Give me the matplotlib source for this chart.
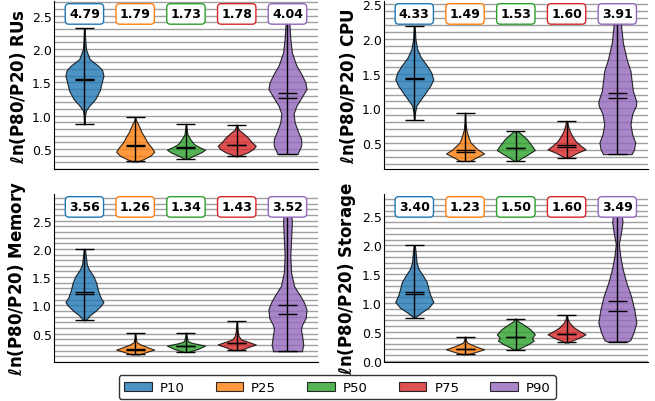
import numpy as np
import matplotlib
matplotlib.use('Agg')
import matplotlib.pyplot as plt
from matplotlib.ticker import MultipleLocator
from matplotlib.patches import Patch

groups = ['P10', 'P25', 'P50', 'P75', 'P90']
colors = ['tab:blue', 'tab:orange', 'tab:green', 'tab:red', 'tab:purple']

# ---- RUs ----
rus_ratio = [4.79, 1.79, 1.73, 1.78, 4.04]
rus_min = [0.87, 0.315, 0.35, 0.39, 0.425]
rus_max = [2.31, 0.976, 0.88, 0.866, 2.6]
rus_mean = [1.55, 0.565, 0.525, 0.56, 1.34]
rus_median = [1.54, 0.55, 0.51, 0.555, 1.27]
rus_shapes = [
    [(0.87, .01), (1.0, .03), (1.08, .08), (1.15, .26), (1.25, .57), (1.38, .81), (1.48, .89),
     (1.60, 1.0), (1.68, .94), (1.75, .72), (1.85, .27), (2.0, .08), (2.15, .04), (2.31, .01)],
    [(0.315, .15), (0.35, .45), (0.40, .8), (0.46, 1.0), (0.52, .87), (0.60, .64), (0.68, .49),
     (0.75, .34), (0.85, .19), (0.93, .05), (0.976, .01)],
    [(0.35, .05), (0.40, .4), (0.45, .8), (0.49, 1.0), (0.53, .7), (0.575, .42), (0.65, .22),
     (0.72, .08), (0.80, .04), (0.88, .01)],
    [(0.39, .05), (0.41, .2), (0.45, .58), (0.50, .87), (0.55, 1.0), (0.60, .8), (0.675, .58),
     (0.75, .29), (0.79, .1), (0.866, .02)],
    [(0.425, .53), (0.475, .6), (0.55, .72), (0.65, .72), (0.78, .53), (0.9, .38), (1.03, .32),
     (1.15, .47), (1.28, .75), (1.40, 1.0), (1.50, .94), (1.63, .72), (1.75, .47), (1.95, .23),
     (2.15, .15), (2.35, .11), (2.6, .04)],
]

# ---- CPU ----
cpu_ratio = [4.33, 1.49, 1.53, 1.60, 3.91]
cpu_min = [0.83, 0.24, 0.24, 0.29, 0.34]
cpu_max = [2.19, 0.94, 0.67, 0.82, 2.45]
cpu_mean = [1.44, 0.40, 0.43, 0.475, 1.216]
cpu_median = [1.42, 0.365, 0.425, 0.44, 1.144]
cpu_shapes = [
    [(0.83, .01), (0.94, .04), (1.04, .11), (1.13, .34), (1.23, .6), (1.33, .85), (1.42, 1.0),
     (1.52, .89), (1.62, .66), (1.74, .34), (1.86, .15), (2.0, .06), (2.19, .02)],
    [(0.24, .25), (0.29, .57), (0.35, 1.0), (0.41, .66), (0.51, .28), (0.61, .15), (0.70, .06),
     (0.80, .03), (0.94, .01)],
    [(0.24, .08), (0.28, .28), (0.34, .66), (0.40, 1.0), (0.46, .85), (0.56, .57), (0.65, .2),
     (0.67, .1)],
    [(0.29, .1), (0.31, .23), (0.36, .57), (0.41, 1.0), (0.46, .75), (0.53, .47), (0.61, .28),
     (0.68, .15), (0.75, .08), (0.82, .02)],
    [(0.34, .75), (0.41, .88), (0.51, .94), (0.63, .78), (0.77, .69), (0.92, .78), (1.04, .98),
     (1.10, 1.0), (1.25, .82), (1.40, .75), (1.54, .69), (1.71, .49), (1.95, .29), (2.19, .2),
     (2.45, .08)],
]

# ---- Memory ----
mem_ratio = [3.56, 1.26, 1.34, 1.43, 3.52]
mem_min = [0.737, 0.133, 0.175, 0.21, 0.19]
mem_max = [2.0, 0.506, 0.52, 0.725, 2.8]
mem_mean = [1.245, 0.225, 0.29, 0.34, 1.01]
mem_median = [1.20, 0.215, 0.28, 0.33, 0.84]
mem_shapes = [
    [(0.737, .05), (0.75, .1), (0.825, .28), (0.90, .57), (0.99, .85), (1.06, 1.0), (1.14, .85),
     (1.26, .72), (1.40, .62), (1.52, .47), (1.64, .23), (1.72, .13), (1.85, .08), (2.0, .03)],
    [(0.133, .2), (0.175, .57), (0.22, 1.0), (0.26, .66), (0.31, .28), (0.35, .08), (0.42, .04),
     (0.506, .01)],
    [(0.175, .1), (0.19, .24), (0.24, .69), (0.29, 1.0), (0.34, .3), (0.37, .1), (0.45, .04),
     (0.52, .01)],
    [(0.21, .2), (0.26, .57), (0.31, 1.0), (0.34, .75), (0.40, .23), (0.46, .1), (0.55, .05),
     (0.725, .01)],
    [(0.19, .75), (0.21, .77), (0.31, .83), (0.46, .77), (0.58, .71), (0.66, .77), (0.78, .96),
     (0.93, 1.0), (1.05, .87), (1.17, .67), (1.34, .35), (1.58, .19), (1.88, .15), (2.17, .19),
     (2.47, .23), (2.61, .2), (2.8, .06)],
]

# ---- Storage ----
sto_ratio = [3.40, 1.23, 1.50, 1.60, 3.49]
sto_min = [0.75, 0.115, 0.196, 0.318, 0.335]
sto_max = [2.0, 0.42, 0.733, 0.79, 2.75]
sto_mean = [1.20, 0.21, 0.415, 0.473, 1.03]
sto_median = [1.155, 0.205, 0.41, 0.462, 0.865]
sto_shapes = [
    [(0.75, .04), (0.78, .15), (0.84, .38), (0.92, .75), (1.02, 1.0), (1.13, .85), (1.24, .75),
     (1.36, .66), (1.47, .47), (1.59, .23), (1.70, .12), (1.85, .08), (2.0, .03)],
    [(0.115, .15), (0.155, .57), (0.20, 1.0), (0.25, .57), (0.29, .28), (0.32, .1), (0.37, .04),
     (0.42, .01)],
    [(0.196, .1), (0.23, .28), (0.29, .66), (0.35, .94), (0.40, .85), (0.46, 1.0), (0.55, .75),
     (0.635, .38), (0.68, .15), (0.733, .02)],
    [(0.318, .1), (0.35, .28), (0.40, .66), (0.46, 1.0), (0.52, .66), (0.58, .38), (0.66, .15),
     (0.72, .06), (0.79, .01)],
    [(0.335, .55), (0.36, .68), (0.49, .85), (0.66, 1.0), (0.89, .89), (1.12, .72), (1.36, .47),
     (1.59, .28), (1.82, .15), (2.02, .08), (2.22, .19), (2.40, .27), (2.54, .23), (2.75, .08)],
]

panels = [
    ('RUs', rus_ratio, rus_min, rus_max, rus_mean, rus_median, rus_shapes, (0.2, 2.72),
     [0.5, 1.0, 1.5, 2.0, 2.5]),
    ('CPU', cpu_ratio, cpu_min, cpu_max, cpu_mean, cpu_median, cpu_shapes, (0.125, 2.55),
     [0.5, 1.0, 1.5, 2.0, 2.5]),
    ('Memory', mem_ratio, mem_min, mem_max, mem_mean, mem_median, mem_shapes, (0.0, 2.97),
     [0.5, 1.0, 1.5, 2.0, 2.5]),
    ('Storage', sto_ratio, sto_min, sto_max, sto_mean, sto_median, sto_shapes, (-0.02, 2.89),
     [0.0, 0.5, 1.0, 1.5, 2.0, 2.5]),
]

fig = plt.figure(figsize=(6.55, 4.02), dpi=100)
rects = [[0.0824, 0.577, 0.403, 0.418], [0.586, 0.577, 0.403, 0.418],
         [0.0824, 0.097, 0.403, 0.418], [0.586, 0.097, 0.403, 0.418]]

positions = np.arange(1, 6)
for rect, (name, ratio, vmin, vmax, vmean, vmed, shapes, ylim, yticks) in zip(rects, panels):
    ax = fig.add_axes(rect)
    stats = []
    for i in range(5):
        stats.append({
            'coords': np.array([p[0] for p in shapes[i]]),
            'vals': np.array([p[1] for p in shapes[i]]),
            'mean': vmean[i], 'median': vmed[i],
            'min': vmin[i], 'max': vmax[i], 'quantiles': [],
        })
    parts = ax.violin(stats, positions=positions, widths=0.75,
                      showmeans=True, showmedians=True, showextrema=True)
    for body, c in zip(parts['bodies'], colors):
        body.set_facecolor(c)
        body.set_edgecolor('black')
        body.set_linewidth(0.8)
        body.set_alpha(0.8)
    for key in ['cbars', 'cmins', 'cmaxes', 'cmeans', 'cmedians']:
        parts[key].set_color('black')
        parts[key].set_linewidth(1.0)

    for x, r, c in zip(positions, ratio, colors):
        ax.text(x, 0.923, f'{r:.2f}', transform=ax.get_xaxis_transform(),
                ha='center', va='center', fontsize=9, fontweight='bold', zorder=5,
                bbox=dict(boxstyle='round,pad=0.3', fc='white', ec=c, lw=1))

    ax.set_xlim(0.4, 5.6)
    ax.set_ylim(*ylim)
    ax.set_yticks(yticks)
    ax.yaxis.set_minor_locator(MultipleLocator(0.1))
    ax.tick_params(axis='y', which='both', length=0, pad=1.5, labelsize=9)
    ax.set_xticks([])
    ax.set_axisbelow(True)
    ax.grid(axis='y', which='both', color='#a0a0a0', linewidth=1.0)
    ax.spines['top'].set_visible(False)
    ax.spines['right'].set_visible(False)
    ax.set_ylabel(r'$\boldsymbol{\ell}$n(P80/P20) ' + name, fontsize=12, fontweight='bold',
                  labelpad=2.5)

handles = [Patch(facecolor=c, edgecolor='black', linewidth=0.8, alpha=0.8, label=g)
           for c, g in zip(colors, groups)]
leg = fig.legend(handles=handles, loc='lower center', bbox_to_anchor=(0.515, 0.0), ncol=5,
                 fontsize=9.5, handlelength=2.1, handletextpad=0.6, columnspacing=2.35,
                 frameon=True, fancybox=True, borderpad=0.4, borderaxespad=0.15)
leg.get_frame().set_edgecolor('black')
leg.get_frame().set_linewidth(1.0)

fig.savefig('out.png', dpi=100)
